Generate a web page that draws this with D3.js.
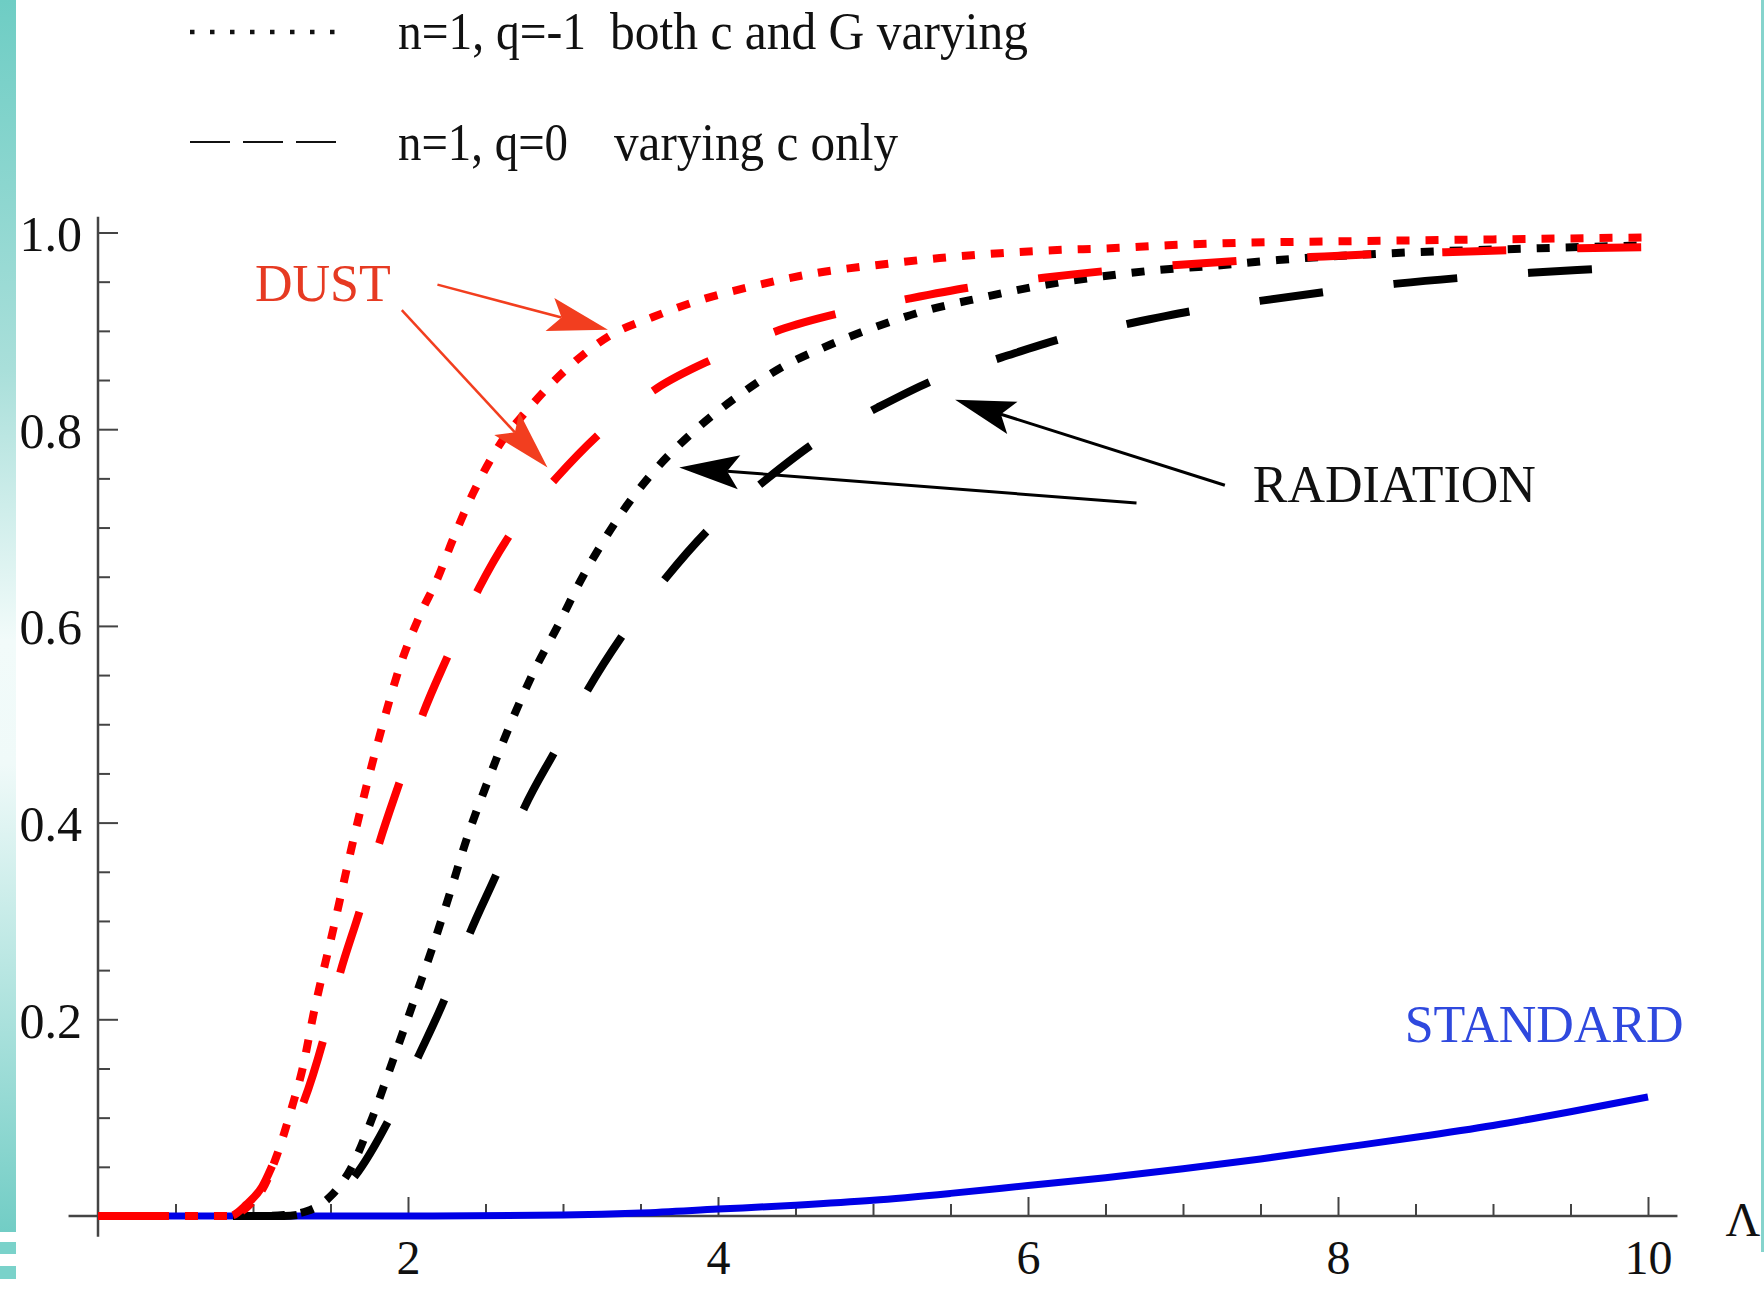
<!DOCTYPE html>
<html>
<head>
<meta charset="utf-8">
<script src="https://cdn.jsdelivr.net/npm/d3@7"></script>
<style>
  html, body { margin: 0; padding: 0; background: #fff; }
  svg { display: block; }
  text { font-family: "Liberation Serif", "Times New Roman", serif; fill: #111; }
</style>
</head>
<body>
<div id="chart"></div>
<script>
// ---- data ----
// red dotted: dust, n=1 q=-1 (both c and G varying)
var dustBothX = [0, 0.85, 0.92, 1.0, 1.06, 1.15, 1.25, 1.32, 1.39, 1.52, 1.65, 1.82, 1.95, 2.08, 2.19, 2.29, 2.42, 2.57, 2.79, 3.05, 3.30, 3.58, 3.88, 4.27, 4.64, 5.03, 5.43, 5.82, 6.16, 6.53, 6.90, 7.24, 8.0, 9.0, 10];
var dustBothY = [0, 0, 0.004, 0.015, 0.027, 0.06, 0.11, 0.15, 0.205, 0.293, 0.384, 0.49, 0.56, 0.612, 0.648, 0.688, 0.735, 0.779, 0.823, 0.865, 0.895, 0.914, 0.931, 0.947, 0.959, 0.967, 0.974, 0.979, 0.982, 0.984, 0.987, 0.989, 0.991, 0.993, 0.995];

// red dashed: dust, n=1 q=0 (varying c only)
var dustCX = [0, 0.85, 0.96, 1.06, 1.15, 1.32, 1.45, 1.56, 1.69, 1.82, 1.95, 2.10, 2.25, 2.46, 2.68, 2.96, 3.26, 3.61, 3.99, 4.40, 4.81, 5.24, 5.66, 6.10, 6.51, 6.96, 7.45, 7.82, 8.23, 8.69, 9.10, 9.55, 10];
var dustCY = [0, 0, 0.012, 0.03, 0.06, 0.113, 0.177, 0.246, 0.311, 0.382, 0.443, 0.512, 0.567, 0.639, 0.698, 0.751, 0.799, 0.842, 0.873, 0.901, 0.919, 0.933, 0.945, 0.954, 0.961, 0.967, 0.972, 0.975, 0.978, 0.980, 0.982, 0.984, 0.985];

// black dotted: radiation, n=1 q=-1
var radBothX = [0, 1.05, 1.2, 1.35, 1.50, 1.63, 1.77, 1.90, 2.03, 2.16, 2.27, 2.38, 2.51, 2.66, 2.81, 2.98, 3.11, 3.26, 3.41, 3.58, 3.86, 4.14, 4.40, 4.68, 5.00, 5.35, 5.71, 6.08, 6.46, 6.85, 7.19, 7.61, 8.35, 9.30, 10];
var radBothY = [0, 0, 0.001, 0.005, 0.02, 0.048, 0.1, 0.157, 0.215, 0.274, 0.328, 0.384, 0.44, 0.5, 0.553, 0.604, 0.645, 0.686, 0.722, 0.756, 0.8, 0.835, 0.862, 0.883, 0.903, 0.921, 0.934, 0.946, 0.955, 0.962, 0.966, 0.972, 0.979, 0.984, 0.987];

// black dashed: radiation, n=1 q=0
var radCX = [0, 1.2, 1.43, 1.65, 1.87, 2.06, 2.24, 2.40, 2.58, 2.75, 2.96, 3.16, 3.40, 3.67, 3.97, 4.32, 4.65, 5.03, 5.41, 5.83, 6.24, 6.67, 7.09, 7.52, 7.94, 8.38, 8.80, 9.24, 9.67, 10];
var radCY = [0, 0, 0.008, 0.039, 0.096, 0.16, 0.222, 0.288, 0.351, 0.415, 0.476, 0.535, 0.594, 0.65, 0.703, 0.75, 0.789, 0.822, 0.851, 0.873, 0.893, 0.908, 0.921, 0.931, 0.94, 0.948, 0.954, 0.959, 0.963, 0.966];

// blue solid: standard
var standardX = [0, 2, 3, 3.5, 4, 4.5, 5, 5.5, 6, 6.5, 7, 7.5, 8, 8.5, 9, 9.5, 10];
var standardY = [0, 0, 0.001, 0.003, 0.007, 0.011, 0.016, 0.023, 0.031, 0.039, 0.048, 0.058, 0.069, 0.08, 0.092, 0.106, 0.121];

// ticks
var xMajorTicks = [2, 4, 6, 8, 10];
var xMinorTicks = d3.range(1, 21).filter(i => i % 4 !== 0).map(i => i * 0.5);
var yMajorTicks = [0.2, 0.4, 0.6, 0.8, 1.0];
var yMinorTicks = d3.range(1, 21).filter(i => i % 4 !== 0).map(i => i / 20);

// legend entries
var legendLabels = ["n=1, q=-1", "n=1, q=0"];
var legendNotes = ["both c and G varying", "varying c only"];

// annotations, in data units: [tailX, tailY, tipX, tipY]
var dustArrows = [[2.19, 0.947, 3.29, 0.901], [1.96, 0.921, 2.90, 0.761]];
var radArrows = [[6.70, 0.725, 3.75, 0.761], [7.27, 0.743, 5.53, 0.830]];

// ---- layout ----
var svgWidth = 1764;
var svgHeight = 1289;

var x = d3.scaleLinear().domain([0, 10]).range([98, 1648]);
var y = d3.scaleLinear().domain([0, 1]).range([1216, 232.5]);

var svg = d3.select("#chart")
  .append("svg")
  .attr("width", svgWidth)
  .attr("height", svgHeight);

svg.append("rect")
  .attr("width", svgWidth)
  .attr("height", svgHeight)
  .attr("fill", "#fff");

// teal slide border on the left / right
var grad = svg.append("defs").append("linearGradient")
  .attr("id", "teal")
  .attr("x1", 0).attr("y1", 0).attr("x2", 0).attr("y2", 1);
grad.append("stop").attr("offset", "0%").attr("stop-color", "#6ecdc4");
grad.append("stop").attr("offset", "30%").attr("stop-color", "#a9dfda");
grad.append("stop").attr("offset", "52%").attr("stop-color", "#f2fbfa");
grad.append("stop").attr("offset", "62%").attr("stop-color", "#f0faf9");
grad.append("stop").attr("offset", "100%").attr("stop-color", "#72cdc5");

svg.append("rect").attr("x", 0).attr("y", 0).attr("width", 16).attr("height", 1232).attr("fill", "url(#teal)");
svg.append("rect").attr("x", 0).attr("y", 1242).attr("width", 16).attr("height", 12).attr("fill", "#7ad2ca");
svg.append("rect").attr("x", 0).attr("y", 1266).attr("width", 16).attr("height", 13).attr("fill", "#7ad2ca");
svg.append("rect").attr("x", 1761).attr("y", 0).attr("width", 3).attr("height", 1252).attr("fill", "#86d4cd");

// ---- axes ----
var axisColor = "#444";

function styleAxis(g) {
  g.select(".domain").remove();
  g.selectAll(".tick line").attr("stroke", axisColor).attr("stroke-width", 2);
  g.selectAll(".tick text")
    .attr("fill", "#111")
    .style("font-family", "'Liberation Serif', serif")
    .style("font-size", "50px");
}

// y axis: ticks point into the plot
svg.append("g")
  .attr("transform", `translate(${x(0)},0)`)
  .call(d3.axisLeft(y).tickValues(yMinorTicks).tickSizeInner(-12).tickSizeOuter(0).tickFormat(""))
  .call(styleAxis);

svg.append("g")
  .attr("transform", `translate(${x(0)},0)`)
  .call(d3.axisLeft(y).tickValues(yMajorTicks).tickSizeInner(-20).tickSizeOuter(0).tickPadding(16).tickFormat(d3.format(".1f")))
  .call(styleAxis)
  .selectAll(".tick text").attr("dy", "0.36em");

// x axis: ticks point up
svg.append("g")
  .attr("transform", `translate(0,${y(0)})`)
  .call(d3.axisBottom(x).tickValues(xMinorTicks).tickSizeInner(-12).tickSizeOuter(0).tickFormat(""))
  .call(styleAxis);

svg.append("g")
  .attr("transform", `translate(0,${y(0)})`)
  .call(d3.axisBottom(x).tickValues(xMajorTicks).tickSizeInner(-19).tickSizeOuter(0).tickPadding(24).tickFormat(d3.format("d")))
  .call(styleAxis)
  .selectAll(".tick text").style("font-size", "48px");

// axis lines
svg.append("line")
  .attr("x1", x(0)).attr("x2", x(0))
  .attr("y1", y(1.016)).attr("y2", y(-0.021))
  .attr("stroke", axisColor).attr("stroke-width", 2.5);

svg.append("line")
  .attr("x1", x(-0.19)).attr("x2", x(10.19))
  .attr("y1", y(0)).attr("y2", y(0))
  .attr("stroke", axisColor).attr("stroke-width", 2.5);

svg.append("text")
  .attr("x", x(10.5))
  .attr("y", y(-0.02))
  .style("font-size", "48px")
  .text("Λ");

// ---- curves ----
var line = d3.line()
  .x(d => x(d[0]))
  .y(d => y(d[1]))
  .curve(d3.curveMonotoneX);

var series = [
  { xs: standardX, ys: standardY, color: "#0000e6", dash: null },
  { xs: radCX, ys: radCY, color: "#000", dash: "64 71" },
  { xs: radBothX, ys: radBothY, color: "#000", dash: "13 16" },
  { xs: dustCX, ys: dustCY, color: "#f00", dash: "64 71" },
  { xs: dustBothX, ys: dustBothY, color: "#f00", dash: "13 16" }
];

series.forEach(function(s) {
  var pts = s.xs.map((v, i) => [v, s.ys[i]]);
  svg.append("path")
    .datum(pts)
    .attr("d", line)
    .attr("fill", "none")
    .attr("stroke", s.color)
    .attr("stroke-width", s.dash ? 8 : 7)
    .attr("stroke-dasharray", s.dash)
    .attr("stroke-linecap", "butt");
});

// ---- annotations ----
function drawArrow(a, color, width) {
  var x1 = x(a[0]), y1 = y(a[1]), x2 = x(a[2]), y2 = y(a[3]);
  var dx = x2 - x1, dy = y2 - y1;
  var len = Math.sqrt(dx * dx + dy * dy);
  var ux = dx / len, uy = dy / len;
  var hl = 60, hw = 17;
  var bx = x2 - ux * hl, by = y2 - uy * hl;
  var nx = x2 - ux * hl * 0.8, ny = y2 - uy * hl * 0.8;
  svg.append("line")
    .attr("x1", x1).attr("y1", y1)
    .attr("x2", nx).attr("y2", ny)
    .attr("stroke", color).attr("stroke-width", width);
  svg.append("path")
    .attr("d", `M${x2},${y2}L${bx - uy * hw},${by + ux * hw}L${nx},${ny}L${bx + uy * hw},${by - ux * hw}Z`)
    .attr("fill", color);
}

dustArrows.forEach(a => drawArrow(a, "#f23e1f", 2.5));
radArrows.forEach(a => drawArrow(a, "#000", 3));

svg.append("text")
  .attr("x", x(1.013)).attr("y", y(0.930))
  .style("font-size", "52px").style("fill", "#e63a22")
  .text("DUST");

svg.append("text")
  .attr("x", x(7.45)).attr("y", y(0.726))
  .style("font-size", "52px").style("fill", "#111")
  .text("RADIATION");

svg.append("text")
  .attr("x", x(8.43)).attr("y", y(0.177))
  .style("font-size", "52px").style("fill", "#2f49de")
  .text("STANDARD");

// ---- legend ----
var legendY = [49, 160];
var legendSampleY = [32, 142];
var legendDash = ["4.5 15.5", "40 13"];
var legendWidth = [4.5, 2];
var labelWidths = [188, 170];
var noteX = [610, 614];
var noteWidths = [418, 284];

legendLabels.forEach(function(lbl, i) {
  svg.append("line")
    .attr("x1", 190).attr("x2", 338)
    .attr("y1", legendSampleY[i]).attr("y2", legendSampleY[i])
    .attr("stroke", "#111")
    .attr("stroke-width", legendWidth[i])
    .attr("stroke-dasharray", legendDash[i]);

  svg.append("text")
    .attr("x", 398).attr("y", legendY[i])
    .attr("textLength", labelWidths[i])
    .attr("lengthAdjust", "spacingAndGlyphs")
    .style("font-size", "52px")
    .text(lbl);

  svg.append("text")
    .attr("x", noteX[i]).attr("y", legendY[i])
    .attr("textLength", noteWidths[i])
    .attr("lengthAdjust", "spacingAndGlyphs")
    .style("font-size", "52px")
    .text(legendNotes[i]);
});
</script>
</body>
</html>
